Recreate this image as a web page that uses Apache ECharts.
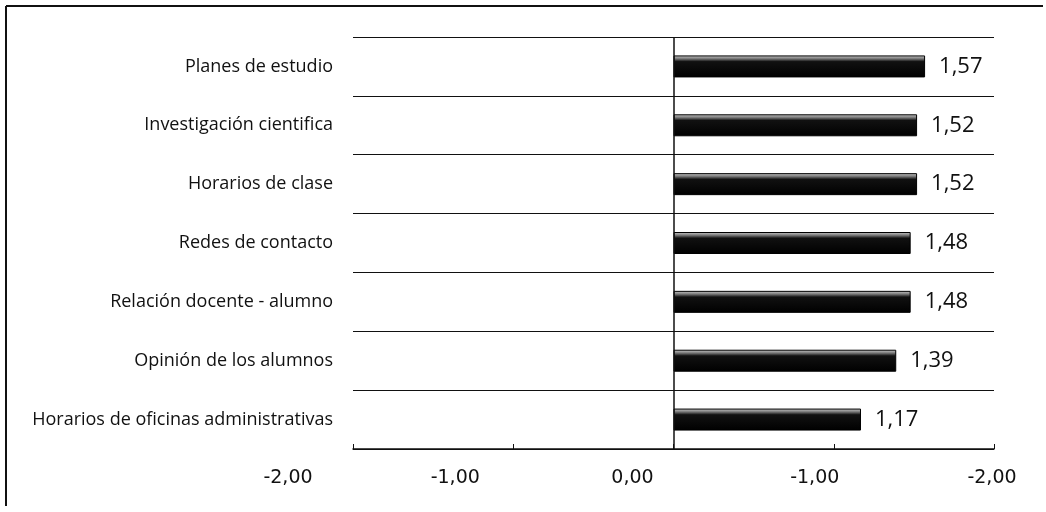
<!DOCTYPE html>
<html>
<head>
<meta charset="utf-8">
<script src="https://cdn.jsdelivr.net/npm/echarts@6/dist/echarts.min.js"></script>
<style>
html,body{margin:0;padding:0;background:#fff;}
#chart{width:1046px;height:512px;}
</style>
</head>
<body>
<div id="chart"></div>
<script>
const categories = [
  'Planes de estudio',
  'Investigación cientifica',
  'Horarios de clase',
  'Redes de contacto',
  'Relación docente - alumno',
  'Opinión de los alumnos',
  'Horarios de oficinas administrativas'
];
const values = [1.57, 1.52, 1.52, 1.48, 1.48, 1.39, 1.17];
const xTickValues = [-2, -1, 0, 1, 2];
const xTickLabels = ['-2,00', '-1,00', '0,00', '-1,00', '-2,00'];

const chart = echarts.init(document.getElementById('chart'), null, {renderer: 'canvas'});

const tickFont = {fontFamily: 'DejaVu Sans', fontSize: 19, color: '#111'};
const rich = {
  t0: Object.assign({padding: [0, 130, 0, 0]}, tickFont),
  t1: Object.assign({padding: [0, 116, 0, 0]}, tickFont),
  t2: Object.assign({padding: [0, 82, 0, 0]}, tickFont),
  t3: Object.assign({padding: [0, 38, 0, 0]}, tickFont),
  t4: Object.assign({padding: [0, 4, 0, 0]}, tickFont)
};

const option = {
  backgroundColor: '#ffffff',
  animation: false,
  grid: {left: 353, right: 52, top: 37, bottom: 63, containLabel: false},
  xAxis: {
    type: 'value',
    min: xTickValues[0],
    max: xTickValues[xTickValues.length - 1],
    interval: 1,
    axisLine: {show: true, onZero: false, lineStyle: {color: '#111', width: 1.5}},
    axisTick: {show: true, inside: true, length: 5, lineStyle: {color: '#111', width: 1}},
    splitLine: {show: false},
    axisLabel: {
      margin: 20,
      fontFamily: 'DejaVu Sans',
      fontSize: 19,
      color: '#111',
      formatter: function (v) {
        const i = xTickValues.indexOf(Math.round(v));
        return '{t' + i + '|' + xTickLabels[i] + '}';
      },
      rich: rich
    }
  },
  yAxis: {
    type: 'category',
    inverse: true,
    data: categories,
    axisLine: {show: false},
    axisTick: {show: false},
    splitLine: {show: true, lineStyle: {color: '#111', width: 1.2}},
    axisLabel: {
      margin: 20,
      fontFamily: 'Open Sans',
      fontSize: 18,
      color: '#111'
    }
  },
  series: [{
    type: 'bar',
    data: values,
    barWidth: 22,
    itemStyle: {
      color: new echarts.graphic.LinearGradient(0, 0, 0, 1, [
        {offset: 0, color: '#d0d0d0'},
        {offset: 0.15, color: '#777'},
        {offset: 0.28, color: '#111'},
        {offset: 1, color: '#000'}
      ]),
      borderColor: '#000',
      borderWidth: 1
    },
    label: {
      show: true,
      position: 'right',
      distance: 14,
      fontFamily: 'Open Sans',
      fontSize: 22,
      color: '#111',
      formatter: function (p) { return p.value.toFixed(2).replace('.', ','); }
    },
    markLine: {
      silent: true,
      symbol: 'none',
      label: {show: false},
      lineStyle: {color: '#111', width: 1.5, type: 'solid'},
      data: [{xAxis: 0}]
    }
  }],
  graphic: [
    {type: 'line', shape: {x1: 6, y1: 6, x2: 1043, y2: 6}, style: {stroke: '#111', lineWidth: 2}},
    {type: 'line', shape: {x1: 6, y1: 6, x2: 6, y2: 506}, style: {stroke: '#111', lineWidth: 2}}
  ]
};
chart.setOption(option);
</script>
</body>
</html>
